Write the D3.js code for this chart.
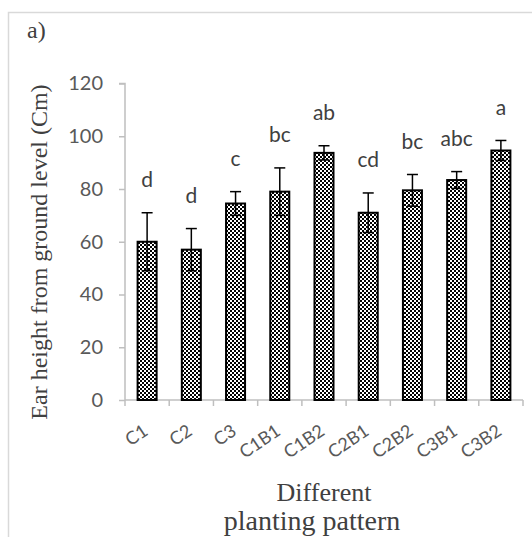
<!DOCTYPE html>
<html><head><meta charset="utf-8">
<script src="https://cdn.jsdelivr.net/npm/d3@7"></script>
<style>body{margin:0;background:#fff}svg{display:block}</style>
</head><body>
<script>
const categories = ["C1","C2","C3","C1B1","C1B2","C2B1","C2B2","C3B1","C3B2"];
const values = [60, 57, 74.5, 79, 93.7, 71, 79.5, 83.4, 94.6];
const errors = [11, 8, 4.5, 9, 2.7, 7.5, 6, 3.2, 3.8];
const letters = ["d","d","c","bc","ab","cd","bc","abc","a"];
const yTicks = [0,20,40,60,80,100,120];

const W = 532, H = 537;
const svg = d3.select("body").append("svg").attr("width", W).attr("height", H);

const defs = svg.append("defs");
const pat = defs.append("pattern").attr("id","chk").attr("patternUnits","userSpaceOnUse")
  .attr("width",4).attr("height",4);
pat.append("rect").attr("width",4).attr("height",4).attr("fill","#fff");
pat.append("rect").attr("x",0).attr("y",0).attr("width",2).attr("height",2).attr("fill","#000");
pat.append("rect").attr("x",2).attr("y",2).attr("width",2).attr("height",2).attr("fill","#000");

// outer frame
svg.append("path").attr("d", `M8.5,${H} V12.5 H${W}`).attr("fill","none").attr("stroke","#d9d9d9").attr("stroke-width",1.5);

const x0 = 125, x1 = 523, yTop = 83.5, yBot = 400;
const x = d3.scaleBand().domain(categories).range([x0, x1]).paddingInner(0.57).paddingOuter(0.285);
const y = d3.scaleLinear().domain([0,120]).range([yBot, yTop]);
const sans = "Lato, 'Open Sans', sans-serif";
const serif = "'Liberation Serif', 'Times New Roman', serif";

// y axis
const ya = svg.append("g").attr("transform", `translate(${x0},0)`)
  .call(d3.axisLeft(y).tickValues(yTicks).tickSize(6).tickPadding(16));
ya.select(".domain").attr("stroke","#bfbfbf").attr("stroke-width",1.5).attr("d", `M-6,${yTop}H0V${yBot}`);
ya.selectAll(".tick line").attr("stroke","#bfbfbf").attr("stroke-width",1.5);
ya.selectAll(".tick text").attr("fill","#595959").style("font-family",sans).style("font-size","20px");

// x axis
const tickPos = d3.range(categories.length + 1).map(i => x0 + i * x.step() - x.step() * 0 );
svg.append("line").attr("x1", x0).attr("x2", x1).attr("y1", yBot).attr("y2", yBot).attr("stroke","#bfbfbf").attr("stroke-width",1.5);
svg.selectAll(".xt").data(d3.range(categories.length + 1)).enter().append("line")
  .attr("x1", i => x0 + i * (x1 - x0) / categories.length).attr("x2", i => x0 + i * (x1 - x0) / categories.length)
  .attr("y1", yBot).attr("y2", yBot + 6)
  .attr("stroke","#bfbfbf").attr("stroke-width",1.5);

// x labels rotated
svg.selectAll(".xl").data(categories).enter().append("text")
  .attr("transform", d => `translate(${x(d) + x.bandwidth()/2 + 2},${yBot + 34}) rotate(-34)`)
  .attr("text-anchor","end")
  .attr("fill","#595959").style("font-family",sans).style("font-size","18px")
  .text(d => d);

// bars
svg.selectAll(".bar").data(categories).enter().append("rect")
  .attr("x", d => x(d)).attr("width", x.bandwidth())
  .attr("y", (d,i) => y(values[i])).attr("height", (d,i) => yBot - y(values[i]))
  .attr("fill","url(#chk)").attr("stroke","#000").attr("stroke-width",2);

// error bars
const eg = svg.selectAll(".err").data(categories).enter().append("g").attr("stroke","#000").attr("stroke-width",1.5);
const cx = d => x(d) + x.bandwidth()/2;
eg.append("line").attr("x1", cx).attr("x2", cx)
  .attr("y1", (d,i) => y(values[i]-errors[i])).attr("y2", (d,i) => y(values[i]+errors[i]));
eg.append("line").attr("x1", d => cx(d)-5.5).attr("x2", d => cx(d)+5.5)
  .attr("y1", (d,i) => y(values[i]+errors[i])).attr("y2", (d,i) => y(values[i]+errors[i]));
eg.append("line").attr("x1", d => cx(d)-5.5).attr("x2", d => cx(d)+5.5)
  .attr("y1", (d,i) => y(values[i]-errors[i])).attr("y2", (d,i) => y(values[i]-errors[i]));

// significance letters
svg.selectAll(".lt").data(categories).enter().append("text")
  .attr("x", cx)
  .attr("y", (d,i) => y(values[i]+errors[i]) - 31)
  .attr("text-anchor","middle").attr("dominant-baseline","middle")
  .attr("fill","#404040").style("font-family",sans).style("font-size","21px")
  .text((d,i) => letters[i]);

// titles
svg.append("text").attr("x", 27).attr("y", 38).attr("fill","#404040")
  .style("font-family",serif).style("font-size","24px").text("a)");
svg.append("text").attr("transform", `translate(47,252) rotate(-90)`).attr("text-anchor","middle")
  .attr("fill","#404040").style("font-family",serif).style("font-size","24px")
  .text("Ear height from ground level (Cm)");
svg.append("text").attr("x", 324).attr("y", 501).attr("text-anchor","middle")
  .attr("fill","#404040").style("font-family",serif).style("font-size","26px")
  .text("Different");
svg.append("text").attr("x", 312).attr("y", 530).attr("text-anchor","middle")
  .attr("fill","#404040").style("font-family",serif).style("font-size","28px")
  .text("planting pattern");
</script>
</body></html>
